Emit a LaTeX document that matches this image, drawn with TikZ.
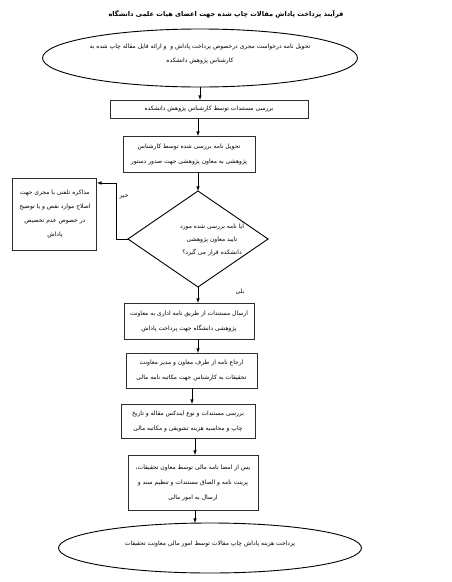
\documentclass[tikz,border=0pt]{standalone}
\usepackage{fontspec}
\usetikzlibrary{shapes.geometric, arrows, positioning}
\TeXXeTstate=1
\newfontfamily\farsifont[Script=Arabic]{DejaVu Sans}
\definecolor{BoxLine}{RGB}{45, 45, 45}
\newcommand{\fatext}[1]{\beginR #1\endR}

\begin{document}
\begin{tikzpicture}[
        x=1pt, y=1pt, >=latex,
        node distance=14pt,
        box/.style={rectangle, draw=BoxLine, line width=0.9pt, outer sep=0pt, fill=white, inner sep=2pt, align=center, font=\farsifont\fontsize{6}{15}\selectfont},
        oval/.style={ellipse, draw=black, line width=0.9pt, outer sep=0pt, inner sep=1pt, align=center, text depth=10pt, font=\farsifont\fontsize{6}{14}\selectfont},
        decision/.style={diamond, draw=black, line width=0.9pt, outer sep=0pt, aspect=1.46, inner sep=0pt, align=center, font=\farsifont\fontsize{6}{13}\selectfont},
        arr/.style={->, line width=0.6pt, black},
        link/.style={line width=0.6pt, black},
        tag/.style={font=\farsifont\fontsize{6}{8}\selectfont}
    ]
        \useasboundingbox (0,0) rectangle (452,-582);
        \coordinate (spine) at (198,0);
        \coordinate (spinelow) at (192,0);
        \coordinate (spineend) at (195,0);

        % Title
        \node[font=\farsifont\bfseries\fontsize{6.6}{9}\selectfont] (title) at (226,-14) {\fatext{فرآیند پرداخت پاداش مقالات چاپ شده جهت اعضای هیات علمی دانشگاه}};

        % Start
        \node[oval, minimum width=305pt, minimum height=58pt] (start) at (200,-58) {\fatext{تحویل نامه درخواست مجری درخصوص پرداخت پاداش و \ و ارائه فایل مقاله چاپ شده به}\\ \fatext{کارشناس پژوهش دانشکده}};

        % Faculty steps
        \node[box, minimum width=198pt, minimum height=18pt, below=13pt of start, xshift=9pt] (check) {\fatext{بررسی مستندات توسط کارشناس پژوهش دانشکده}};
        \node[box, minimum width=132pt, minimum height=36pt, below=18pt of check, xshift=-20pt] (handover) {\fatext{تحویل نامه بررسی شده توسط کارشناس}\\ \fatext{پژوهشی به معاون پژوهشی جهت صدور دستور}};

        % Decision
        \node[decision, minimum width=140pt, minimum height=96pt, below=19pt of handover, xshift=9pt] (approve) {\hspace*{28pt}\fatext{آیا نامه بررسی شده مورد}\\ \hspace*{28pt}\fatext{تایید معاون پژوهشی}\\ \hspace*{28pt}\fatext{دانشکده قرار می گیرد؟}};
        \node[box, minimum width=84pt, minimum height=72pt, left=31pt of approve, yshift=25pt, font=\farsifont\fontsize{6}{14}\selectfont] (phone) {\fatext{مذاکره تلفنی با مجری جهت}\\ \fatext{اصلاح موارد نقص و یا توضیح}\\ \fatext{در خصوص عدم تخصیص}\\ \fatext{پاداش}};

        % University steps
        \node[box, minimum width=130pt, minimum height=36pt, below=16pt of approve, xshift=-9pt] (send) {\fatext{ارسال مستندات از طریق نامه اداری به معاونت}\\ \fatext{پژوهشی دانشگاه جهت پرداخت پاداش}};
        \node[box, minimum width=131pt, minimum height=35pt, below=14pt of send, xshift=2.5pt] (refer) {\fatext{ارجاع نامه از طرف معاون و مدیر معاونت}\\ \fatext{تحقیقات به کارشناس جهت مکاتبه نامه مالی}};
        \node[box, minimum width=134pt, minimum height=34pt, below=16pt of refer, xshift=-3.5pt] (index) {\fatext{بررسی مستندات و نوع ایندکس مقاله و تاریخ}\\ \fatext{چاپ و محاسبه هزینه تشویقی و مکاتبه مالی}};
        \node[box, minimum width=130pt, minimum height=55pt, below=17pt of index, xshift=5pt] (sign) {\fatext{پس از امضا نامه مالی توسط معاون تحقیقات،}\\ \fatext{پرینت نامه و الصاق مستندات و تنظیم سند و}\\ \fatext{ارسال به امور مالی}};

        % End
        \node[oval, minimum width=303pt, minimum height=50pt, below=13pt of sign, xshift=17pt] (stop) {\fatext{پرداخت هزینه پاداش چاپ مقالات توسط امور مالی معاونت تحقیقات}};

        % Connections
        \draw[arr] (start.south) -- (start.south |- check.north);
        \draw[arr] (spine |- check.south) -- (spine |- handover.north);
        \draw[arr] (spine |- handover.south) -- (approve.north);
        \draw[arr] (approve.south) -- node[tag, pos=0.3, anchor=west, xshift=34pt] {\fatext{بلی}} (approve.south |- send.north);
        \draw[arr] (spine |- send.south) -- (spine |- refer.north);
        \draw[arr] (spinelow |- refer.south) -- (spinelow |- index.north);
        \draw[arr] (spineend |- index.south) -- (spineend |- sign.north);
        \draw[arr] (spineend |- sign.south) -- (spineend |- stop.north);

        % No branch
        \coordinate (nobend) at (116,-183);
        \draw[link] (approve.west) -- (approve.west -| nobend) -- node[tag, right, pos=0.75] {\fatext{خیر}} (nobend);
        \draw[arr] (nobend) -- (nobend -| phone.east);
    \end{tikzpicture}
\end{document}
